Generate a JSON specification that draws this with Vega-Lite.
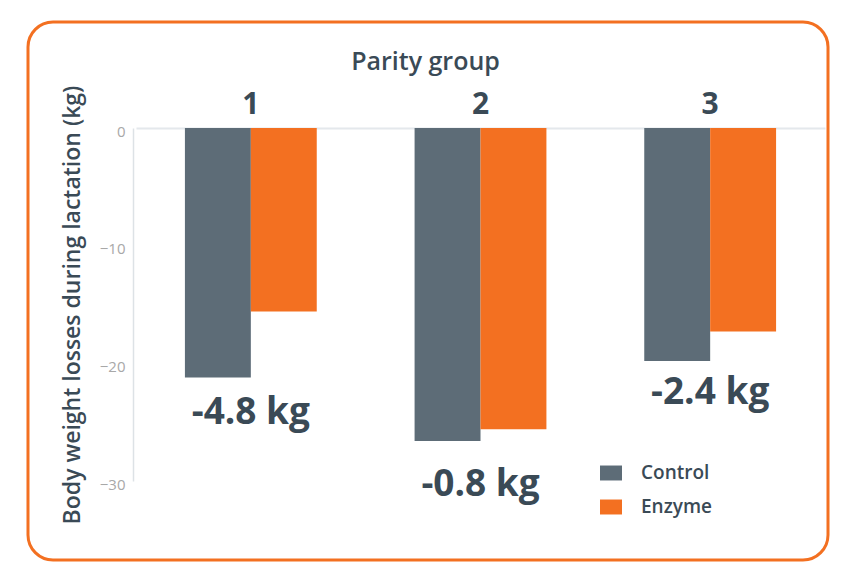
{
  "$schema": "https://vega.github.io/schema/vega-lite/v6.json",
  "width": 800,
  "height": 538,
  "autosize": {"type": "none"},
  "padding": {"left": 28, "top": 22, "right": 26, "bottom": 21},
  "background": "white",
  "config": {
    "font": "Open Sans",
    "view": {"stroke": "#f37021", "strokeWidth": 3, "cornerRadius": 25, "fill": "white"}
  },
  "datasets": {
    "bars": [
      {"group": "1", "treatment": "Control", "value": -21.2},
      {"group": "1", "treatment": "Enzyme", "value": -15.6},
      {"group": "2", "treatment": "Control", "value": -26.6},
      {"group": "2", "treatment": "Enzyme", "value": -25.6},
      {"group": "3", "treatment": "Control", "value": -19.8},
      {"group": "3", "treatment": "Enzyme", "value": -17.3}
    ],
    "notes": [
      {"group": "1", "label": "-4.8 kg", "value": -24.2},
      {"group": "2", "label": "-0.8 kg", "value": -30.3},
      {"group": "3", "label": "-2.4 kg", "value": -22.5}
    ]
  },
  "layer": [
    {
      "data": {"name": "bars"},
      "mark": {"type": "bar"},
      "encoding": {
        "x": {
          "field": "group", "type": "nominal",
          "scale": {"range": [108, 797], "paddingInner": 0.426, "paddingOuter": 0.213},
          "axis": {
            "orient": "top", "offset": -106, "title": "Parity group",
            "labelAngle": 0, "labelFontSize": 30, "labelFontWeight": "bold", "labelColor": "#3a4a56",
            "labelPadding": 9, "ticks": false,
            "domainColor": "#e4e8ec", "domainWidth": 2,
            "titleFontSize": 25, "titleFontWeight": 600, "titleColor": "#3a4a56", "titlePadding": 15,
            "titleX": 397
          }
        },
        "xOffset": {"field": "treatment", "type": "nominal"},
        "y": {
          "field": "value", "type": "quantitative",
          "scale": {"domain": [-30, 0], "range": [459, 106], "nice": false},
          "axis": {
            "offset": -105, "values": [0, -10, -20, -30], "ticks": false, "grid": false,
            "labelFontSize": 15, "labelColor": "#a8a8a8", "labelPadding": 8, "labelOffset": 3,
            "domainColor": "#dde2e6", "domainWidth": 1.5,
            "title": "Body weight losses during lactation (kg)",
            "titleFontSize": 23, "titleFontWeight": 600, "titleColor": "#3a4a56", "titlePadding": 15
          }
        },
        "y2": {"datum": 0},
        "color": {
          "field": "treatment", "type": "nominal",
          "scale": {"domain": ["Control", "Enzyme"], "range": ["#5d6c77", "#f37021"]},
          "legend": {
            "title": null, "orient": "none", "legendX": 572, "legendY": 440,
            "symbolType": "M-1,-0.68H1V0.68H-1Z", "symbolSize": 484, "symbolStrokeWidth": 0,
            "symbolOpacity": 1,
            "labelFontSize": 19, "labelFontWeight": 600, "labelColor": "#3a4a56",
            "labelOffset": 19, "rowPadding": 13
          }
        }
      }
    },
    {
      "data": {"name": "notes"},
      "mark": {"type": "text", "fontSize": 37, "fontWeight": "bold", "color": "#3a4a56", "baseline": "middle", "align": "center"},
      "encoding": {
        "x": {"field": "group", "type": "nominal"},
        "y": {"field": "value", "type": "quantitative"},
        "text": {"field": "label"}
      }
    }
  ]
}
